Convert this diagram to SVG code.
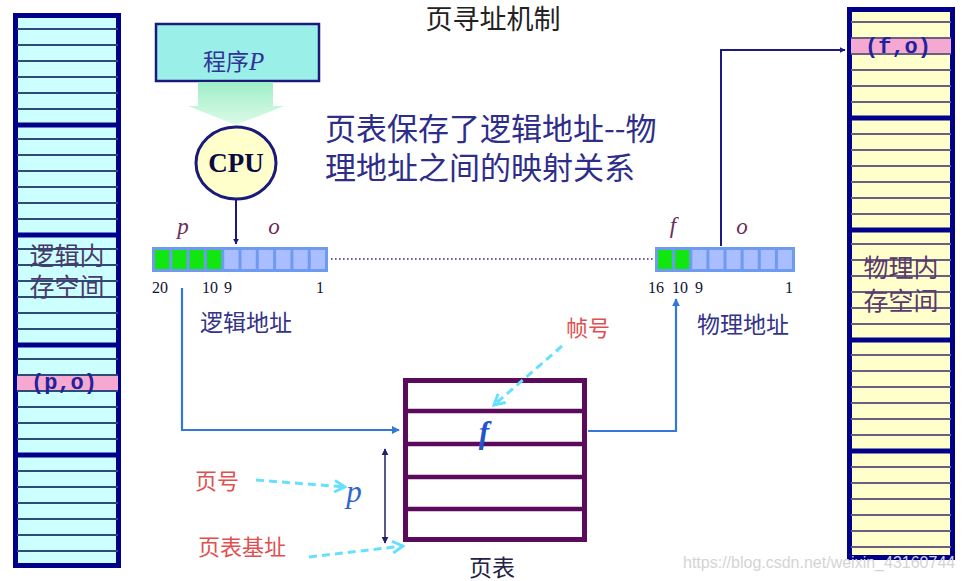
<svg xmlns="http://www.w3.org/2000/svg" width="964" height="581" viewBox="0 0 964 581">
<style>
.cjk{font-family:"Noto Sans CJK SC","Noto Sans",sans-serif}
.ser{font-family:"Liberation Serif","DejaVu Serif",serif}
.mono{font-family:"Liberation Mono","DejaVu Sans Mono",monospace;font-weight:bold}
.memL{fill:#ccffff;stroke:#00008b;stroke-width:5}
.memR{fill:#ffffcc;stroke:#00008b;stroke-width:5}
.thinL{stroke:#2f4a78;stroke-width:1.8}
.thinR{stroke:#6a5f80;stroke-width:1.8}
.div{stroke:#00008b;stroke-width:5}
.pink{fill:#f5a8d2}
.barbg{fill:#6e9af0}
.cl{fill:#a8beff}
.cg{fill:#11e611}
.lbl{fill:#6b2d5c;font-style:italic;font-size:23px}
.num{fill:#111133;font-size:16px}
.red{fill:#e05050;font-size:22px}
.navy{stroke:#1a1a80;stroke-width:2;fill:none}
.blue{stroke:#3377dd;stroke-width:2.2;fill:none}
.cyan{stroke:#66e0ff;stroke-width:3;stroke-dasharray:8 5;fill:none}
.pt{stroke:#5c0a5c;stroke-width:4.5}
</style>
<defs>
<marker id="mNavy" viewBox="0 0 10 10" refX="9" refY="5" markerWidth="6" markerHeight="6" markerUnits="userSpaceOnUse" orient="auto"><path d="M0,0 L10,5 L0,10 z" fill="#1a1a80"/></marker>
<marker id="mNavy2" viewBox="0 0 10 10" refX="9" refY="5" markerWidth="7" markerHeight="7" markerUnits="userSpaceOnUse" orient="auto-start-reverse"><path d="M0,0 L10,5 L0,10 z" fill="#222266"/></marker>
<marker id="mBlue" viewBox="0 0 10 10" refX="9" refY="5" markerWidth="8" markerHeight="8" markerUnits="userSpaceOnUse" orient="auto"><path d="M0,0 L10,5 L0,10 z" fill="#3377dd"/></marker>
<marker id="mCyan" viewBox="0 0 12 12" refX="10" refY="6" markerWidth="14" markerHeight="14" markerUnits="userSpaceOnUse" orient="auto"><path d="M1,1 L10,6 L1,11" fill="none" stroke="#66e0ff" stroke-width="2.5"/></marker>
<linearGradient id="gArrow" x1="0" y1="0" x2="0" y2="1"><stop offset="0" stop-color="#9feec8"/><stop offset="1" stop-color="#dcfbe8"/></linearGradient>
</defs>

<rect width="964" height="581" fill="#ffffff"/>

<g id="title"><text x="493" y="29" text-anchor="middle" class="cjk" font-size="27" fill="#222222">页寻址机制</text></g>

<g id="logical-memory">
<rect x="15.5" y="15.5" width="103" height="550" class="memL"/>
<path class="thinL" d="M17 29H118M17 45H118M17 61H118M17 77H118M17 93H118M17 109H118M17 139H118M17 155H118M17 171H118M17 187H118M17 203H118M17 219H118M17 249H118M17 265H118M17 281H118M17 297H118M17 313H118M17 329H118M17 359H118M17 407H118M17 423H118M17 439H118M17 471H118M17 487H118M17 503H118M17 519H118M17 535H118M17 551H118"/>
<rect x="17" y="375" width="101" height="16" class="pink"/>
<path class="thinL" d="M17 375H118M17 391H118"/>
<path class="div" d="M16 125H118M16 235H118M16 345H118M16 455H118"/>
<text x="67" y="265" text-anchor="middle" class="cjk" font-size="25" fill="#4a3a6a">逻辑内</text>
<text x="67" y="296" text-anchor="middle" class="cjk" font-size="25" fill="#4a3a6a">存空间</text>
<text x="64" y="389" text-anchor="middle" class="mono" font-size="22" fill="#222299">(p,o)</text>
</g>

<g id="physical-memory">
<rect x="849.5" y="9.5" width="103" height="548" class="memR"/>
<path class="thinR" d="M851 22H951M851 70H951M851 86H951M851 102H951M851 134H951M851 150H951M851 166H951M851 182H951M851 198H951M851 214H951M851 244H951M851 260H951M851 276H951M851 292H951M851 308H951M851 324H951M851 355H951M851 371H951M851 387H951M851 403H951M851 419H951M851 435H951M851 467H951M851 483H951M851 499H951M851 515H951M851 531H951M851 547H951"/>
<rect x="851" y="38" width="100" height="16" class="pink"/>
<path class="thinR" d="M851 38H951M851 54H951"/>
<path class="div" d="M850 118H952M850 230H952M850 340H952M850 451H952"/>
<text x="901" y="277" text-anchor="middle" class="cjk" font-size="25" fill="#5a3a6a">物理内</text>
<text x="901" y="310" text-anchor="middle" class="cjk" font-size="25" fill="#5a3a6a">存空间</text>
<text x="898" y="53" text-anchor="middle" class="mono" font-size="22" fill="#222299">(f,o)</text>
</g>

<g id="program">
<rect x="156" y="24" width="163" height="57" fill="#9af0e8" stroke="#1a1a7a" stroke-width="2.5"/>
<text x="203" y="70" class="cjk" font-size="23" fill="#333399">程序<tspan class="ser" font-style="italic" font-size="25">P</tspan></text>
</g>

<g id="flow-arrow">
<polygon points="198,82 273,82 273,106 284,106 236,125 188,106 198,106" fill="url(#gArrow)"/>
</g>

<g id="cpu">
<ellipse cx="236" cy="163" rx="40" ry="36" fill="#ffffcc" stroke="#1a1a7a" stroke-width="3"/>
<text x="236" y="172" text-anchor="middle" class="ser" font-weight="bold" font-size="27" fill="#0a0a40">CPU</text>
</g>

<g id="description">
<text x="325" y="140" class="cjk" font-size="31" fill="#2e2e8a">页表保存了逻辑地址--物</text>
<text x="325" y="179" class="cjk" font-size="31" fill="#2e2e8a">理地址之间的映射关系</text>
</g>

<g id="logical-address">
<rect x="152" y="247" width="176" height="25" class="barbg"/>
<rect x="155" y="250" width="14.3" height="19" class="cg"/>
<rect x="172.3" y="250" width="14.3" height="19" class="cg"/>
<rect x="189.6" y="250" width="14.3" height="19" class="cg"/>
<rect x="206.9" y="250" width="14.3" height="19" class="cg"/>
<rect x="224.2" y="250" width="14.3" height="19" class="cl"/>
<rect x="241.5" y="250" width="14.3" height="19" class="cl"/>
<rect x="258.8" y="250" width="14.3" height="19" class="cl"/>
<rect x="276.1" y="250" width="14.3" height="19" class="cl"/>
<rect x="293.4" y="250" width="14.3" height="19" class="cl"/>
<rect x="310.7" y="250" width="14.3" height="19" class="cl"/>
<text x="183" y="234" text-anchor="middle" class="ser lbl">p</text>
<text x="274" y="234" text-anchor="middle" class="ser lbl">o</text>
<text x="160" y="293" text-anchor="middle" class="ser num">20</text>
<text x="210" y="293" text-anchor="middle" class="ser num">10</text>
<text x="228" y="293" text-anchor="middle" class="ser num">9</text>
<text x="320" y="293" text-anchor="middle" class="ser num">1</text>
<text x="200" y="331" class="cjk" font-size="23" fill="#333388">逻辑地址</text>
</g>

<g id="physical-address">
<rect x="655" y="247" width="140" height="25" class="barbg"/>
<rect x="658" y="250" width="14.1" height="19" class="cg"/>
<rect x="675.1" y="250" width="14.1" height="19" class="cg"/>
<rect x="692.3" y="250" width="14.1" height="19" class="cl"/>
<rect x="709.4" y="250" width="14.1" height="19" class="cl"/>
<rect x="726.5" y="250" width="14.1" height="19" class="cl"/>
<rect x="743.6" y="250" width="14.1" height="19" class="cl"/>
<rect x="760.8" y="250" width="14.1" height="19" class="cl"/>
<rect x="777.9" y="250" width="14.1" height="19" class="cl"/>
<text x="673" y="233" text-anchor="middle" class="ser lbl">f</text>
<text x="742" y="234" text-anchor="middle" class="ser lbl">o</text>
<text x="656" y="293" text-anchor="middle" class="ser num">16</text>
<text x="680" y="293" text-anchor="middle" class="ser num">10</text>
<text x="699" y="293" text-anchor="middle" class="ser num">9</text>
<text x="789" y="293" text-anchor="middle" class="ser num">1</text>
<text x="697" y="333" class="cjk" font-size="23" fill="#333388">物理地址</text>
</g>

<g id="page-table">
<rect x="405.5" y="380.5" width="179" height="159" fill="#ffffff" stroke="#5c0a5c" stroke-width="5"/>
<path class="pt" d="M406 411H585M406 444H585M406 477H585M406 509H585"/>
<text x="484" y="443" text-anchor="middle" class="ser" font-style="italic" font-weight="bold" font-size="31" fill="#2255cc">f</text>
<text x="492" y="576" text-anchor="middle" class="cjk" font-size="23" fill="#222244">页表</text>
</g>

<g id="labels">
<text x="566" y="336" class="cjk red">帧号</text>
<text x="195" y="489" class="cjk red">页号</text>
<text x="198" y="555" class="cjk red">页表基址</text>
<text x="354" y="502" text-anchor="middle" class="ser" font-style="italic" font-size="31" fill="#3366cc">p</text>
</g>

<g id="connectors">
<path d="M236 200V244" class="navy" marker-end="url(#mNavy)"/>
<path d="M331 259H653" stroke="#333388" stroke-width="1.6" stroke-dasharray="1.6 2.4" fill="none"/>
<path d="M721 246V50H845" class="navy" marker-end="url(#mNavy)"/>
<path d="M182 288V430H399" class="blue" marker-end="url(#mBlue)"/>
<path d="M588 431H676V299" class="blue" marker-end="url(#mBlue)"/>
<path d="M562 346L494 405" class="cyan" marker-end="url(#mCyan)"/>
<path d="M256 480L345 487" class="cyan" marker-end="url(#mCyan)"/>
<path d="M309 557L403 546" class="cyan" marker-end="url(#mCyan)"/>
<path d="M385 449V543" stroke="#222266" stroke-width="1.5" fill="none" marker-start="url(#mNavy2)" marker-end="url(#mNavy2)"/>
</g>

<g id="watermark"><text x="683" y="568" font-family="Liberation Sans, Arial, sans-serif" font-size="16" fill="#d4d4d4">https://blog.csdn.net/weixin_43160744</text></g>
</svg>
